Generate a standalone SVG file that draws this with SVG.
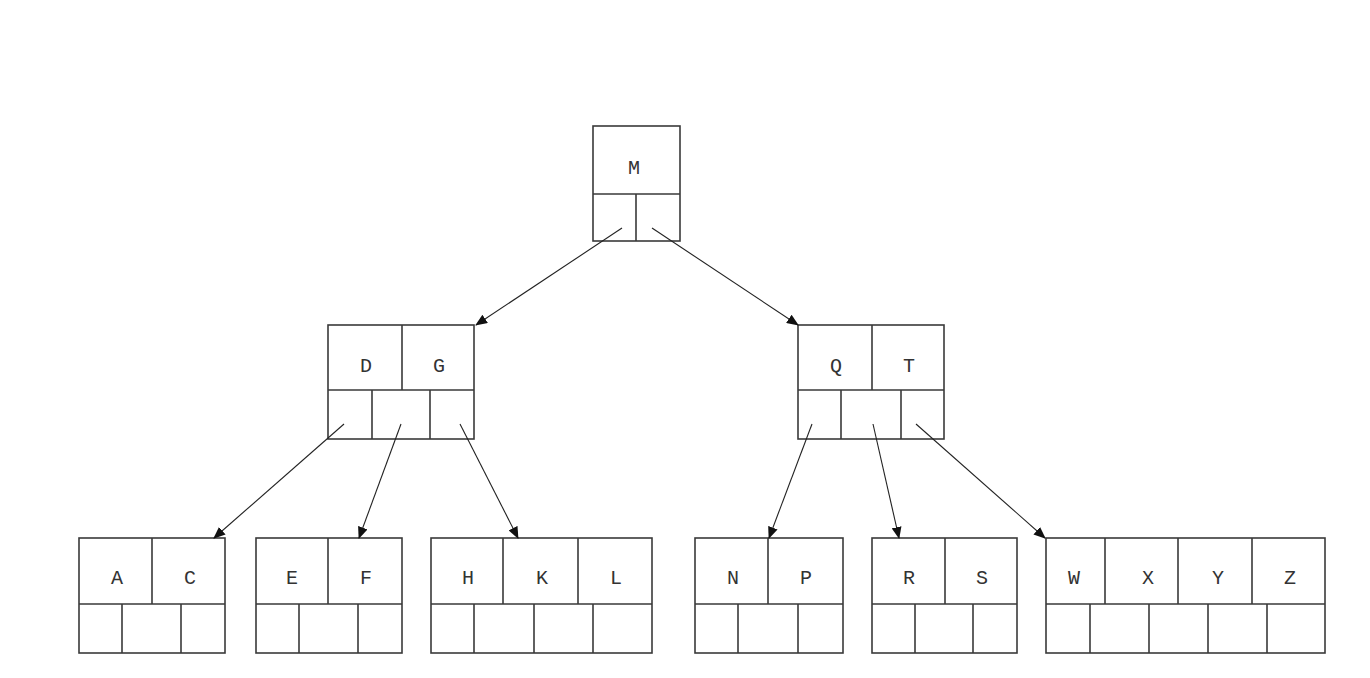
<svg xmlns="http://www.w3.org/2000/svg" width="1370" height="678" viewBox="0 0 1370 678">
<style>
.b{fill:none;stroke:#3a3a3a;stroke-width:1.6}
.t{font-family:"Liberation Mono",monospace;font-size:20px;fill:#333;text-anchor:middle}
.c{stroke:#222;stroke-width:1.1;fill:none;marker-end:url(#ah)}
</style>
<defs>
<marker id="ah" markerWidth="12" markerHeight="10" refX="11" refY="5" orient="auto" markerUnits="userSpaceOnUse">
<path d="M0,0 L12,5 L0,10 z" fill="#111"/>
</marker>
</defs>
<rect width="1370" height="678" fill="#fff"/>
<g id="node-M">
<rect class="b" x="593" y="126" width="87" height="115"/>
<path class="b" d="M593,194H680M636,194V241"/>
<text class="t" x="634" y="174">M</text>
</g>
<g id="node-DG">
<rect class="b" x="328" y="325" width="146" height="114"/>
<path class="b" d="M328,390H474M402,325V390M372,390V439M430,390V439"/>
<text class="t" x="366" y="372">D</text>
<text class="t" x="439" y="372">G</text>
</g>
<g id="node-QT">
<rect class="b" x="798" y="325" width="146" height="114"/>
<path class="b" d="M798,390H944M872,325V390M841,390V439M901,390V439"/>
<text class="t" x="836" y="372">Q</text>
<text class="t" x="909" y="372">T</text>
</g>
<g id="node-AC">
<rect class="b" x="79" y="538" width="146" height="115"/>
<path class="b" d="M79,604H225M152,538V604M122,604V653M181,604V653"/>
<text class="t" x="117" y="584">A</text>
<text class="t" x="190" y="584">C</text>
</g>
<g id="node-EF">
<rect class="b" x="256" y="538" width="146" height="115"/>
<path class="b" d="M256,604H402M328,538V604M299,604V653M358,604V653"/>
<text class="t" x="292" y="584">E</text>
<text class="t" x="366" y="584">F</text>
</g>
<g id="node-HKL">
<rect class="b" x="431" y="538" width="221" height="115"/>
<path class="b" d="M431,604H652M503,538V604M578,538V604M474,604V653M534,604V653M593,604V653"/>
<text class="t" x="468" y="584">H</text>
<text class="t" x="542" y="584">K</text>
<text class="t" x="616" y="584">L</text>
</g>
<g id="node-NP">
<rect class="b" x="695" y="538" width="148" height="115"/>
<path class="b" d="M695,604H843M768,538V604M738,604V653M798,604V653"/>
<text class="t" x="733" y="584">N</text>
<text class="t" x="806" y="584">P</text>
</g>
<g id="node-RS">
<rect class="b" x="872" y="538" width="145" height="115"/>
<path class="b" d="M872,604H1017M945,538V604M915,604V653M973,604V653"/>
<text class="t" x="909" y="584">R</text>
<text class="t" x="982" y="584">S</text>
</g>
<g id="node-WXYZ">
<rect class="b" x="1046" y="538" width="279" height="115"/>
<path class="b" d="M1046,604H1325M1105,538V604M1178,538V604M1252,538V604M1090,604V653M1149,604V653M1208,604V653M1267,604V653"/>
<text class="t" x="1074" y="584">W</text>
<text class="t" x="1148" y="584">X</text>
<text class="t" x="1218" y="584">Y</text>
<text class="t" x="1290" y="584">Z</text>
</g>
<g id="connectors">
<line class="c" x1="622" y1="228" x2="476" y2="325"/>
<line class="c" x1="652" y1="228" x2="798" y2="325"/>
<line class="c" x1="344" y1="424" x2="214" y2="538"/>
<line class="c" x1="401" y1="424" x2="359" y2="538"/>
<line class="c" x1="460" y1="424" x2="518" y2="538"/>
<line class="c" x1="812" y1="424" x2="769" y2="538"/>
<line class="c" x1="873" y1="424" x2="899" y2="538"/>
<line class="c" x1="916" y1="424" x2="1045" y2="538"/>
</g>
</svg>
